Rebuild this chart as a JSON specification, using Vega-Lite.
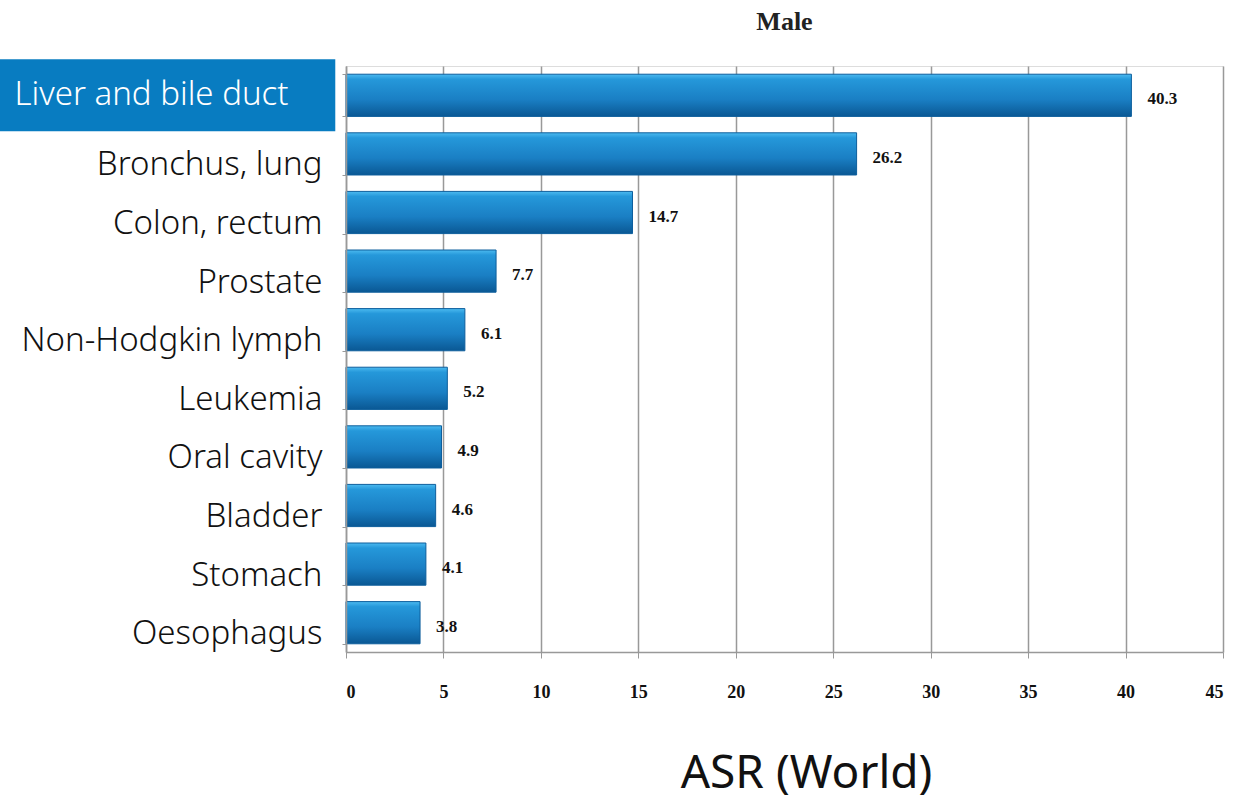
{
  "$schema": "https://vega.github.io/schema/vega-lite/v6.json",
  "autosize": "none",
  "width": 877,
  "height": 586,
  "padding": {"left": 346, "top": 66, "right": 14, "bottom": 152},
  "background": "white",
  "title": {"text": "Male", "font": "Liberation Serif", "fontSize": 26, "fontWeight": "bold", "color": "#222", "offset": 15, "anchor": "middle"},
  "data": {"values": [
    {"site": "Liver and bile duct", "asr": 40.3},
    {"site": "Bronchus, lung", "asr": 26.2},
    {"site": "Colon, rectum", "asr": 14.7},
    {"site": "Prostate", "asr": 7.7},
    {"site": "Non-Hodgkin lymph", "asr": 6.1},
    {"site": "Leukemia", "asr": 5.2},
    {"site": "Oral cavity", "asr": 4.9},
    {"site": "Bladder", "asr": 4.6},
    {"site": "Stomach", "asr": 4.1},
    {"site": "Oesophagus", "asr": 3.8}
  ]},
  "encoding": {
    "y": {"field": "site", "type": "nominal", "sort": null,
      "scale": {"paddingInner": 0.28, "paddingOuter": 0.14},
      "axis": {"title": null, "zindex": 2, "labelFont": "Noto Sans", "labelFontSize": 33, "labelFontWeight": 300,
        "labelColor": {"condition": {"test": "datum.value == 'Liver and bile duct'", "value": "white"}, "value": "#111"},
        "labelPadding": {"condition": {"test": "datum.value == 'Liver and bile duct'", "value": 54}, "value": 20},
        "labelOffset": {"condition": {"test": "datum.value == 'Liver and bile duct'", "value": -1}, "value": 11},
        "labelLimit": 340, "domainColor": "#999", "domainWidth": 1.5, "tickColor": "#999", "tickSize": 4, "tickBand": "extent", "grid": false}},
    "x": {"field": "asr", "type": "quantitative",
      "scale": {"domain": [0, 45], "nice": false},
      "axis": {"values": [0,5,10,15,20,25,30,35,40,45], "title": "ASR (World)", "titleFont": "Noto Sans", "titleFontSize": 46, "titleFontWeight": "normal", "titleColor": "#111", "titlePadding": 50, "titleX": 460, "labelFont": "Liberation Serif", "labelFontSize": 18, "labelFontWeight": "bold", "labelColor": "#111", "labelPadding": 25, "domainColor": "#999", "domainWidth": 1.5, "tickColor": "#999", "tickSize": 6, "gridColor": "#999", "gridWidth": 1.5, "grid": true}}
  },
  "layer": [
    {
      "mark": {"type": "rect", "color": "#087cc1", "clip": false, "height": {"band": 1.71}},
      "transform": [{"filter": "datum.site == 'Liver and bile duct'"}],
      "encoding": {
        "x": {"datum": -17.8},
        "x2": {"datum": -0.55}
      }
    },
    {
      "mark": {"type": "bar",
        "color": {"gradient": "linear", "x1": 0, "y1": 0, "x2": 0, "y2": 1,
          "stops": [{"offset": 0, "color": "#4cbaf0"}, {"offset": 0.12, "color": "#2598da"}, {"offset": 0.6, "color": "#1a7fc4"}, {"offset": 1, "color": "#0a5894"}]},
        "stroke": "#0d5e9c", "strokeWidth": 1}
    },
    {
      "mark": {"type": "text", "align": "left", "baseline": "middle", "dx": 16, "dy": 4, "font": "Liberation Serif", "fontSize": 17, "fontWeight": "bold", "color": "#111"},
      "encoding": {"text": {"field": "asr", "type": "quantitative", "format": ".1f"}}
    }
  ]
}
